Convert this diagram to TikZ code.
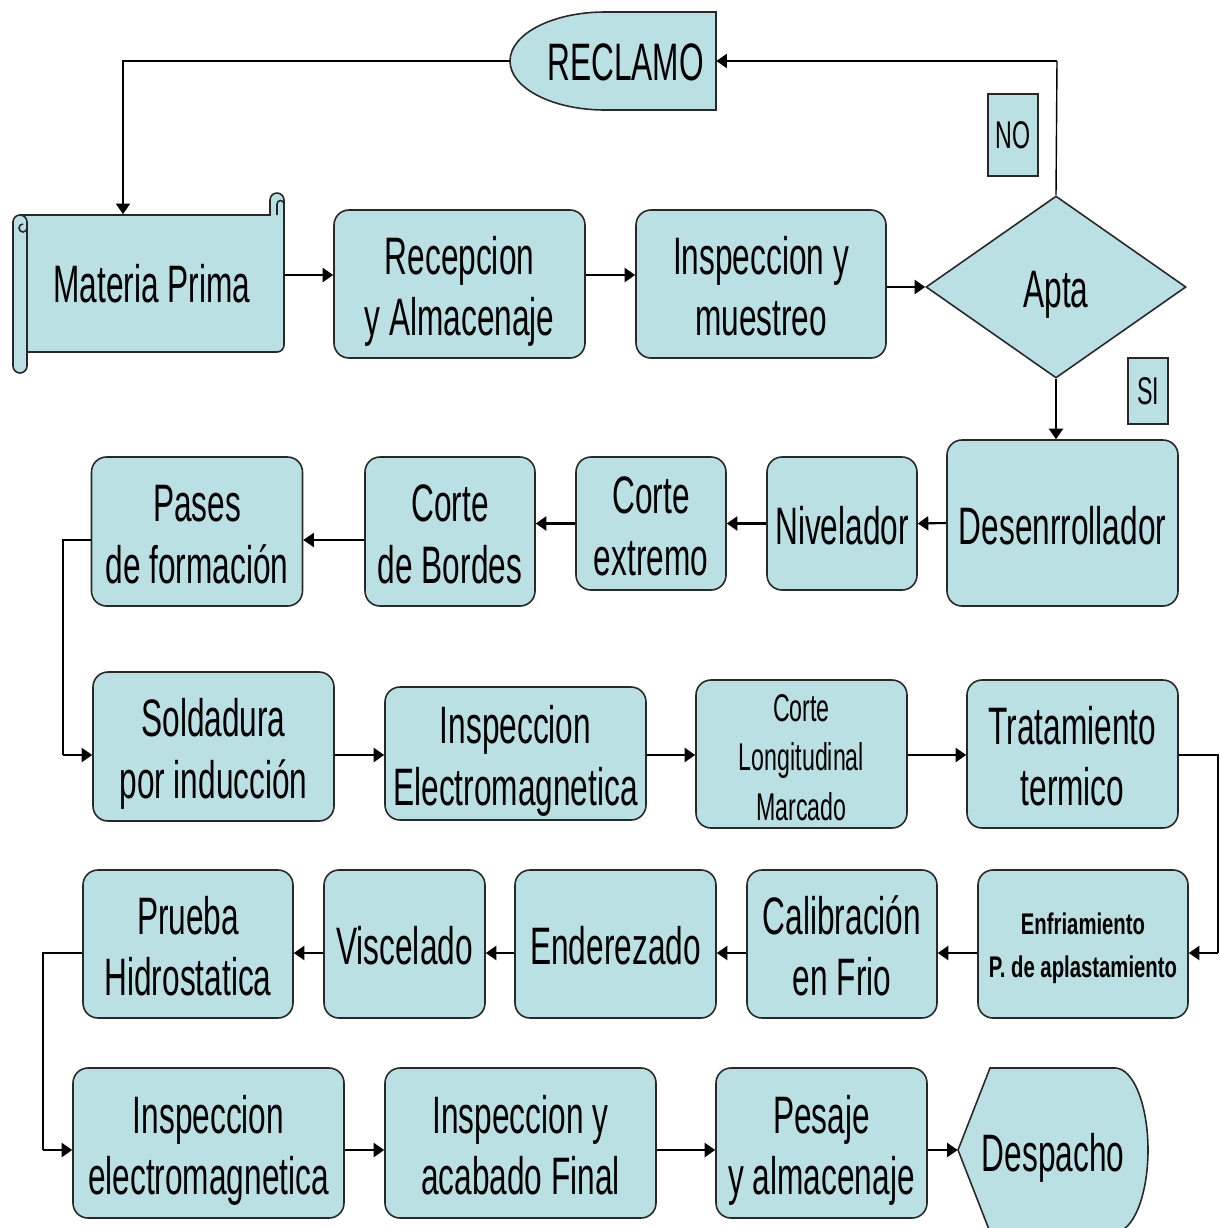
\documentclass[tikz,border=0pt]{standalone}
\usepackage{fontspec}
\setmainfont[FakeStretch=0.6]{Liberation Sans}
\newfontfamily\narb[FakeStretch=0.68]{Liberation Sans}
\usetikzlibrary{arrows.meta,shapes.geometric}
\definecolor{boxc}{RGB}{186,224,227}
\definecolor{bordc}{RGB}{40,40,40}
\newcommand{\bigf}{\fontsize{30}{35}\selectfont}
\newcommand{\midf}{\fontsize{22}{28}\selectfont}
\newcommand{\tagf}{\fontsize{22}{26}\selectfont}
\newcommand{\boldf}{\narb\bfseries\fontsize{17}{24.5}\selectfont}
% centred lines; the optional argument is the ascent given to the first line
\newcommand{\lns}[2][34.5pt]{\begin{tabular}{@{}c@{}}\rule{0pt}{#1}#2\end{tabular}}
\begin{document}
\begin{tikzpicture}[x=0.02cm,y=-0.02cm,
  sz/.style 2 args={minimum width=#1*0.02cm, minimum height=#2*0.02cm},
  blk/.style={draw=bordc, fill=boxc, line width=0.9pt, rounded corners=0.3cm,
              inner xsep=0pt, inner ysep=-12pt, font=\bigf},
  txt/.style={draw=none, inner xsep=0pt, inner ysep=-12pt, font=\bigf},
  shapest/.style={draw=bordc, fill=boxc, line width=0.9pt},
  curl/.style={draw=bordc, line width=0.9pt},
  tag/.style={draw=bordc, fill=boxc, line width=0.8pt, inner sep=0pt, font=\tagf},
  link/.style={line width=0.8pt},
  arr/.style={line width=1.2pt, -{Triangle[length=6pt,width=8pt]}},
  thinarr/.style={line width=0.8pt, -{Triangle[length=6pt,width=8pt]}}]

\clip (0,0) rectangle (1220,1228);
\fill[white] (0,0) rectangle (1220,1228);

% ---- row levels of the connectors
\coordinate (r1) at (0,275);
\coordinate (r2b) at (0,540);
\coordinate (r3) at (0,755);
\coordinate (r4) at (0,953);
\coordinate (r5) at (0,1150);

% ---- scroll: Materia Prima
\filldraw[shapest] (20,215) -- (270,215) -- (270,200)
  arc[start angle=180,end angle=360,radius=7] -- (284,345)
  arc[start angle=0,end angle=90,radius=7] -- (20,352) -- cycle;
\draw[curl] (277,215) -- (277,204) arc[start angle=180,end angle=360,radius=3.5];
\filldraw[shapest] (27,222) -- (27,366)
  arc[start angle=0,end angle=180,radius=7] -- (13,222)
  arc[start angle=180,end angle=360,radius=7] -- cycle;
\draw[curl] (27,228) arc[start angle=0,end angle=270,radius=4];
\node[txt, sz={264}{137}] (mp) at (152,283) {\lns[33pt]{Materia Prima}};

% ---- RECLAMO
\filldraw[shapest] (716,12) -- (605,12)
  arc[start angle=270,end angle=90,x radius=95,y radius=49] -- (716,110) -- cycle;
\node[txt, sz={206}{98}] (recl) at (613,61) {\hspace*{0.5cm}\lns[33pt]{RECLAMO}};

% ---- row 1
\node[blk, sz={251}{148}] (recep) at (459.5,284) {\lns{Recepcion\\y Almacenaje}};
\node[blk, sz={250}{148}] (insp) at (761,284) {\lns{Inspeccion y\\muestreo}};
\node[shape=diamond, draw=bordc, fill=boxc, line width=0.9pt, inner xsep=0pt,
      inner ysep=-12pt, sz={260}{182}, font=\bigf] (apta) at (1056,287) {\lns[34pt]{Apta}};
\node[tag, sz={50}{82}] (no) at (1013,135) {NO};
\node[tag, sz={40}{66}] (si) at (1148,391) {SI};

% ---- row 2
\node[blk, sz={231}{166}] (desen) at (1062.5,523) {\lns[35pt]{Desenrrollador}};
\node[blk, sz={150}{133}] (niv) at (842,523.5) {\lns[34pt]{Nivelador}};
\node[blk, sz={150}{133}] (cext) at (651,523.5) {\lns{Corte\\extremo}};
\node[blk, sz={170}{149}] (cbord) at (450,531.5) {\lns{Corte\\de Bordes}};
\node[blk, sz={211}{149}] (pases) at (197,531.5) {\lns{Pases\\de formación}};

% ---- row 3
\node[blk, sz={241}{149}] (sold) at (213.5,746.5) {\lns{Soldadura\\por inducción}};
\node[blk, sz={261}{133}] (iem) at (515.5,753.5) {\lns{Inspeccion\\Electromagnetica}};
\node[blk, sz={211}{148}, font=\midf] (clong) at (801.5,754)
  {\lns[27.6pt]{Corte\\Longitudinal\\Marcado}};
\node[blk, sz={211}{148}] (trat) at (1072.5,754) {\lns{Tratamiento\\termico}};

% ---- row 4
\node[blk, sz={210}{148}, font=\boldf] (enf) at (1083,944)
  {\lns[21pt]{Enfriamiento\\P. de aplastamiento}};
\node[blk, sz={190}{148}] (calib) at (842,944) {\lns{Calibración\\en Frio}};
\node[blk, sz={201}{148}] (ender) at (615.5,944) {\lns[34pt]{Enderezado}};
\node[blk, sz={161}{148}] (visc) at (404.5,944) {\lns[34pt]{Viscelado}};
\node[blk, sz={210}{148}] (prueba) at (188,944) {\lns{Prueba\\Hidrostatica}};

% ---- row 5
\node[blk, sz={271}{150}] (iem2) at (208.5,1143) {\lns{Inspeccion\\electromagnetica}};
\node[blk, sz={271}{150}] (acab) at (520.5,1143) {\lns{Inspeccion y\\acabado Final}};
\node[blk, sz={211}{150}] (pesaje) at (821.5,1143) {\lns{Pesaje\\y almacenaje}};
\filldraw[shapest] (958,1150) -- (990,1068) -- (1115,1068)
  arc[start angle=270,end angle=450,x radius=33,y radius=82] -- (990,1232) -- cycle;
\node[txt, sz={190}{164}] (desp) at (1053,1150) {\lns[35pt]{Despacho}};

% ---- connectors
\coordinate (k1) at (1057,61);
\draw[link] (apta.north) -- (k1);
\draw[arr] (k1) -- (recl.east);
\coordinate (k2) at (123,61);
\draw[thinarr] (recl.west) -- (k2) -- (k2 |- mp.north);

\draw[arr] (mp.east |- r1) -- (recep.west |- r1);
\draw[arr] (recep.east |- r1) -- (insp.west |- r1);
\draw[arr] (insp.east |- apta.west) -- (apta.west);
\draw[arr] (apta.south) -- (apta.south |- desen.north);

\draw[arr] (desen.west) -- (niv.east);
\draw[arr] (niv.west) -- (cext.east);
\draw[arr] (cext.west) -- (cext.west -| cbord.east);
\draw[arr] (cbord.west |- r2b) -- (pases.east |- r2b);
\coordinate (k3) at (63,540);
\coordinate (k4) at (63,755);
\draw[link] (pases.west |- r2b) -- (k3) -- (k4);
\draw[arr] (k4) -- (sold.west |- k4);

\draw[arr] (sold.east |- r3) -- (iem.west |- r3);
\draw[arr] (iem.east |- r3) -- (clong.west |- r3);
\draw[arr] (clong.east |- r3) -- (trat.west |- r3);
\coordinate (k5) at (1218,755);
\coordinate (k6) at (1218,953);
\draw[link] (trat.east |- r3) -- (k5) -- (k6);
\draw[arr] (k6) -- (enf.east |- k6);

\draw[arr] (enf.west |- r4) -- (calib.east |- r4);
\draw[arr] (calib.west |- r4) -- (ender.east |- r4);
\draw[arr] (ender.west |- r4) -- (visc.east |- r4);
\draw[arr] (visc.west |- r4) -- (prueba.east |- r4);
\coordinate (k7) at (43,953);
\coordinate (k8) at (43,1150);
\draw[link] (prueba.west |- r4) -- (k7) -- (k8);
\draw[arr] (k8) -- (iem2.west |- k8);

\draw[arr] (iem2.east |- r5) -- (acab.west |- r5);
\draw[arr] (acab.east |- r5) -- (pesaje.west |- r5);
\draw[arr] (pesaje.east |- r5) -- (desp.west);
\end{tikzpicture}
\end{document}
